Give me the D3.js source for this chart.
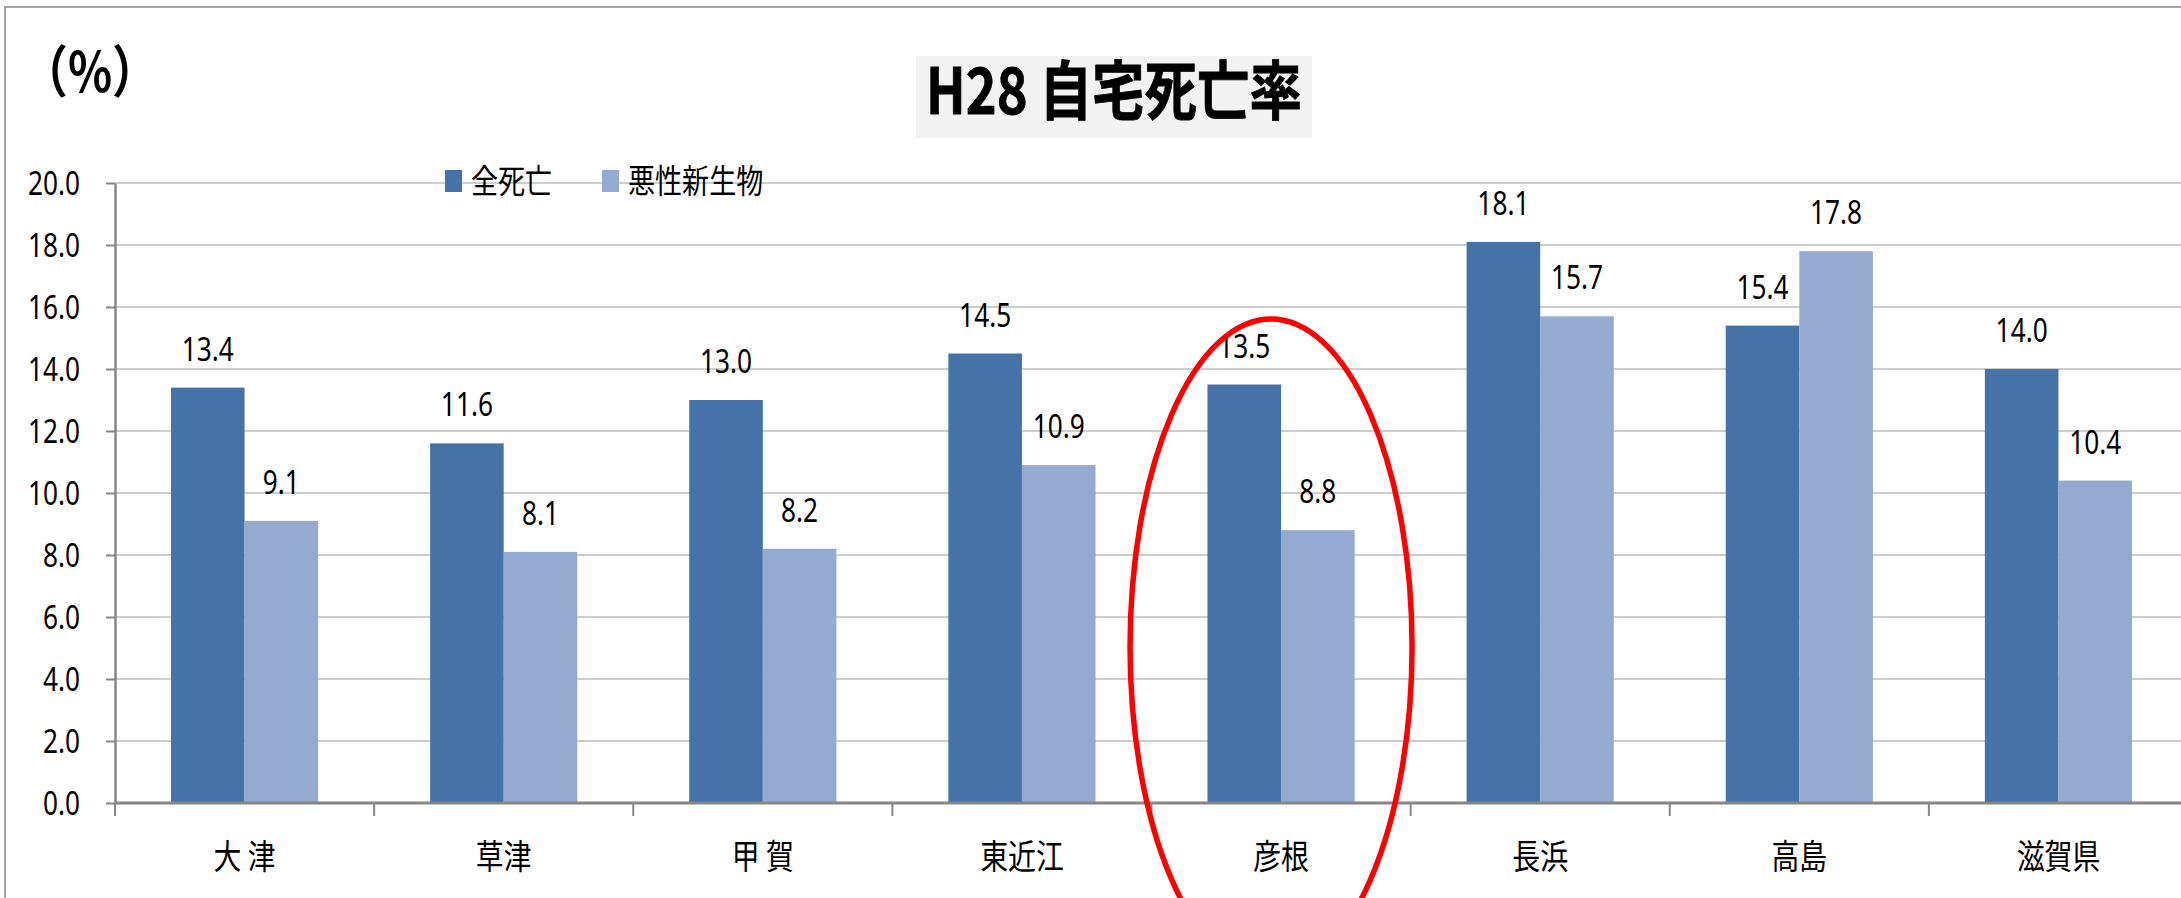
<!DOCTYPE html>
<html>
<head>
<meta charset="utf-8">
<script src="https://cdn.jsdelivr.net/npm/d3@7"></script>
<style>
  body { margin: 0; background: #fff; }
  svg { display: block; }
</style>
</head>
<body>
<script>
// chart data
var categories = ["大 津", "草津", "甲 賀", "東近江", "彦根", "長浜", "高島", "滋賀県"];
var seriesNames = ["全死亡", "悪性新生物"];
var allDeaths = [13.4, 11.6, 13.0, 14.5, 13.5, 18.1, 15.4, 14.0];
var cancerDeaths = [9.1, 8.1, 8.2, 10.9, 8.8, 15.7, 17.8, 10.4];
var yTicks = [0, 2, 4, 6, 8, 10, 12, 14, 16, 18, 20];
var chartTitle = "H28 自宅死亡率";
var unitLabel = "（%）";

var w = 2181, h = 898;
var sx = 0.82; // text in the picture is squeezed horizontally
var colors = ["#4673a7", "#95aad0"];
var numFont = "'Noto Sans', sans-serif";
var cjkFont = "'Noto Sans CJK JP', sans-serif";

var rows = categories.map(function(c, i){
    return { cat: c, values: [allDeaths[i], cancerDeaths[i]] };
});

var svg = d3.select("body").append("svg")
    .attr("width", w)
    .attr("height", h);

svg.append("rect")
    .attr("width", w).attr("height", h)
    .style("fill", "#fff");

// outer frame (runs off right and bottom)
svg.append("rect")
    .attr("x", 5).attr("y", 7)
    .attr("width", w + 50).attr("height", h + 50)
    .style("fill", "none")
    .style("stroke", "#a6a6a6")
    .style("stroke-width", 2);

// scales
var x0 = d3.scaleBand()
    .domain(categories)
    .range([115, 2188])
    .paddingInner(0.432)
    .paddingOuter(0.216);

var x1 = d3.scaleBand()
    .domain([0, 1])
    .range([0, x0.bandwidth()]);

var y = d3.scaleLinear()
    .domain([0, 20])
    .range([803, 183]);

// gridlines
svg.append("g").attr("class", "grid")
    .selectAll("line")
    .data(yTicks.filter(function(d){ return d > 0; }))
    .enter().append("line")
    .attr("x1", 115).attr("x2", w)
    .attr("y1", function(d){ return y(d); })
    .attr("y2", function(d){ return y(d); })
    .style("stroke", "#bcbcbc")
    .style("stroke-width", 1.5);

// y axis
var yAxis = d3.axisLeft(y)
    .tickValues(yTicks)
    .tickSize(9)
    .tickSizeOuter(0)
    .tickFormat(d3.format(".1f"));

var yG = svg.append("g")
    .attr("class", "axis")
    .attr("transform", "translate(115,0)")
    .call(yAxis);

yG.select(".domain").style("stroke", "#868686").style("stroke-width", 2.5);
yG.selectAll(".tick line").style("stroke", "#868686").style("stroke-width", 2);
yG.selectAll(".tick text")
    .attr("x", 0).attr("dy", null)
    .attr("transform", "translate(-35,11.5) scale(" + sx + ",1)")
    .style("font-family", numFont)
    .style("font-size", "32px")
    .style("fill", "#000");

// bars
var groups = svg.selectAll(".group")
    .data(rows)
    .enter().append("g")
    .attr("class", "group")
    .attr("transform", function(d){ return "translate(" + x0(d.cat) + ",0)"; });

groups.selectAll("rect")
    .data(function(d){ return d.values; })
    .enter().append("rect")
    .attr("x", function(d, i){ return x1(i); })
    .attr("width", x1.bandwidth())
    .attr("y", function(d){ return y(d); })
    .attr("height", function(d){ return y(0) - y(d); })
    .style("fill", function(d, i){ return colors[i]; });

// value labels
groups.selectAll(".val")
    .data(function(d){ return d.values; })
    .enter().append("text")
    .attr("class", "val")
    .attr("text-anchor", "middle")
    .attr("transform", function(d, i){
        return "translate(" + (x1(i) + x1.bandwidth() / 2) + "," + (y(d) - 27) + ") scale(" + sx + ",1)";
    })
    .style("font-family", numFont)
    .style("font-size", "32px")
    .text(function(d){ return d3.format(".1f")(d); });

// x axis line and ticks at category boundaries
svg.append("line")
    .attr("x1", 115).attr("x2", w)
    .attr("y1", y(0)).attr("y2", y(0))
    .style("stroke", "#868686")
    .style("stroke-width", 3);

svg.append("g").selectAll("line")
    .data(d3.range(categories.length + 1))
    .enter().append("line")
    .attr("x1", function(i){ return 115 + i * x0.step(); })
    .attr("x2", function(i){ return 115 + i * x0.step(); })
    .attr("y1", y(0)).attr("y2", y(0) + 13)
    .style("stroke", "#868686")
    .style("stroke-width", 2);

// category labels
svg.append("g").selectAll("text")
    .data(categories)
    .enter().append("text")
    .attr("text-anchor", "middle")
    .attr("dominant-baseline", "central")
    .attr("transform", function(d){
        return "translate(" + (x0(d) + x0.bandwidth() / 2) + ",854) scale(" + sx + ",1)";
    })
    .style("font-family", cjkFont)
    .style("font-size", "34px")
    .text(function(d){ return d; });

// legend
var legendX = [445, 602];
var legend = svg.selectAll(".legend")
    .data(seriesNames)
    .enter().append("g")
    .attr("class", "legend")
    .attr("transform", function(d, i){ return "translate(" + legendX[i] + ",0)"; });

legend.append("rect")
    .attr("y", 170).attr("width", 17).attr("height", 22)
    .style("fill", function(d, i){ return colors[i]; });

legend.append("text")
    .attr("dominant-baseline", "central")
    .attr("transform", "translate(26,179) scale(" + sx + ",1)")
    .style("font-family", cjkFont)
    .style("font-size", "33px")
    .text(function(d){ return d; });

// title
svg.append("rect")
    .attr("x", 916).attr("y", 56)
    .attr("width", 396).attr("height", 82)
    .style("fill", "#f2f2f2");

svg.append("text")
    .attr("text-anchor", "middle")
    .attr("dominant-baseline", "central")
    .attr("transform", "translate(1114,86) scale(" + sx + ",1)")
    .style("font-family", cjkFont)
    .style("font-weight", "bold")
    .style("font-size", "64px")
    .style("stroke", "#000")
    .style("stroke-width", 0.8)
    .text(chartTitle);

// unit label
svg.append("text")
    .attr("dominant-baseline", "central")
    .attr("transform", "translate(22,68) scale(" + sx + ",1)")
    .style("font-family", cjkFont)
    .style("font-weight", "bold")
    .style("font-size", "56px")
    .text(unitLabel);

// red ellipse highlighting 彦根
var hik = x0("彦根") + x0.bandwidth() / 2;
svg.append("ellipse")
    .attr("cx", hik - 10).attr("cy", 647)
    .attr("rx", 141).attr("ry", 328)
    .style("fill", "none")
    .style("stroke", "#ff0000")
    .style("stroke-width", 5.5);
</script>
</body>
</html>
